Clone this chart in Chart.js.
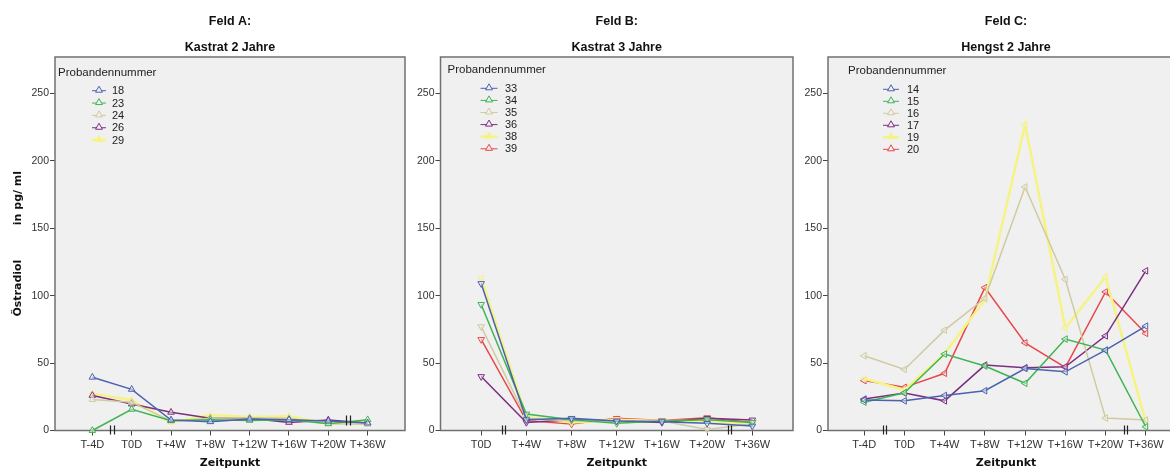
<!DOCTYPE html>
<html>
<head>
<meta charset="utf-8">
<script src="https://cdn.jsdelivr.net/npm/chart.js@4.4.1/dist/chart.umd.min.js"></script>
<style>
  html, body { margin: 0; padding: 0; background: #fff; width: 1170px; height: 470px; overflow: hidden; }
  canvas { position: absolute; top: 0; }
</style>
</head>
<body>
<canvas id="feldA" width="410" height="470" style="left:0px"></canvas>
<canvas id="feldB" width="388" height="470" style="left:410px"></canvas>
<canvas id="feldC" width="420" height="470" style="left:798px"></canvas>
<script>
// Zeitpunkte (x-axis categories)
const zeitpunkteAC = ['T-4D', 'T0D', 'T+4W', 'T+8W', 'T+12W', 'T+16W', 'T+20W', 'T+36W'];
const zeitpunkteB = ['T0D', 'T+4W', 'T+8W', 'T+12W', 'T+16W', 'T+20W', 'T+36W'];
const yTickValues = [0, 50, 100, 150, 200, 250];

// Feld A: Kastrat 2 Jahre (Östradiol in pg/ml)
const idsA = ['18', '23', '24', '26', '29'];
const a18 = [39.5, 30.5, 7.8, 6.5, 8.5, 8.0, 7.0, 5.5];
const a23 = [0.0, 15.7, 7.3, 8.0, 7.5, 8.0, 5.0, 8.0];
const a24 = [23.0, 21.0, 7.0, 9.0, 9.5, 9.0, 5.0, 4.6];
const a26 = [26.0, 19.6, 13.5, 9.0, 9.0, 6.0, 7.8, 5.5];
const a29 = [27.5, 22.5, 6.0, 11.5, 10.0, 10.5, 5.0, 6.0];

// Feld B: Kastrat 3 Jahre
const idsB = ['33', '34', '35', '36', '38', '39'];
const b33 = [109.0, 8.0, 9.0, 7.0, 6.5, 5.3, 3.3];
const b34 = [93.5, 12.2, 8.0, 5.3, 7.0, 8.0, 6.0];
const b35 = [77.0, 9.0, 7.0, 7.0, 7.0, 0.8, 5.0];
const b36 = [40.0, 6.0, 8.0, 7.0, 6.0, 9.0, 7.8];
const b38 = [113.0, 10.0, 6.0, 8.0, 7.0, 7.0, 5.0];
const b39 = [67.5, 7.3, 4.8, 9.0, 7.5, 9.5, 6.0];

// Feld C: Hengst 2 Jahre
const idsC = ['14', '15', '16', '17', '19', '20'];
const c14 = [22.6, 22.0, 26.0, 29.5, 46.0, 43.5, 59.6, 77.4];
const c15 = [21.0, 28.0, 56.7, 47.8, 35.0, 67.8, 59.6, 2.8];
const c16 = [55.4, 45.3, 74.4, 98.0, 180.6, 112.0, 9.2, 7.8];
const c17 = [23.3, 27.8, 22.0, 48.5, 46.5, 47.3, 70.2, 118.4];
const c19 = [38.5, 30.0, 57.0, 97.0, 227.0, 76.0, 114.0, 6.5];
const c20 = [37.0, 32.0, 42.4, 106.0, 65.0, 46.8, 102.8, 72.0];

// Series styling (SPSS default palette)
const palette = {
  blue:   { color: '#4A62B0', width: 1.5 },
  green:  { color: '#3DB552', width: 1.5 },
  beige:  { color: '#CFCB9E', width: 1.5 },
  purple: { color: '#7C2E80', width: 1.5 },
  yellow: { color: '#F6F386', width: 2.6 },
  red:    { color: '#E8484C', width: 1.5 }
};

const SANS = '"Liberation Sans", Arial, sans-serif';
const WIDE = '"DejaVu Sans", Verdana, sans-serif';
const PLOT_BG = '#F0F0F0';

// plot background + frame
const framePlugin = {
  id: 'frame',
  beforeDraw(chart) {
    const { ctx, chartArea: a } = chart;
    ctx.save();
    ctx.fillStyle = PLOT_BG;
    ctx.fillRect(a.left, a.top, a.right - a.left, a.bottom - a.top);
    ctx.restore();
  },
  beforeDatasetsDraw(chart) {
    const { ctx, chartArea: a } = chart;
    ctx.save();
    ctx.strokeStyle = '#707070';
    ctx.lineWidth = 1.5;
    ctx.strokeRect(a.left, a.top, a.right - a.left, a.bottom - a.top);
    ctx.restore();
  }
};

// axis break marks "||"
const breakPlugin = {
  id: 'axisBreaks',
  afterDatasetsDraw(chart, args, opts) {
    const { ctx } = chart;
    const xs = chart.scales.x;
    const y0 = chart.chartArea.bottom;
    ctx.save();
    ctx.strokeStyle = '#222';
    ctx.lineWidth = 1.2;
    (opts.marks || []).forEach(m => {
      const x = xs.getPixelForValue(m.at);
      const top = y0 - 5 - (m.lift || 0);
      const bot = y0 + 4 - (m.lift || 0) * 0.9;
      [-1.6, 1.6].forEach(dx => {
        ctx.beginPath();
        ctx.moveTo(Math.round(x + dx) + 0.5, top);
        ctx.lineTo(Math.round(x + dx) + 0.5, bot);
        ctx.stroke();
      });
    });
    ctx.restore();
  }
};

// legend drawn inside the plot area
const probandLegend = {
  id: 'probandLegend',
  afterDraw(chart, args, o) {
    const { ctx, chartArea: a } = chart;
    ctx.save();
    ctx.fillStyle = '#222';
    ctx.font = '11.5px ' + SANS;
    ctx.textBaseline = 'middle';
    ctx.textAlign = 'left';
    ctx.fillText('Probandennummer', a.left + o.titleX, a.top + o.titleY);
    ctx.font = '11px ' + SANS;
    chart.data.datasets.forEach((ds, i) => {
      const y = a.top + o.rowY + i * o.rowGap;
      const thick = ds.borderWidth > 2;
      ctx.strokeStyle = ds.borderColor;
      ctx.lineWidth = thick ? 2.6 : 1;
      ctx.beginPath();
      ctx.moveTo(a.left + o.lineX0, y);
      ctx.lineTo(a.left + o.lineX1, y);
      ctx.stroke();
      ctx.fillStyle = thick ? ds.borderColor : PLOT_BG;
      ctx.strokeStyle = ds.borderColor;
      ctx.lineWidth = 1;
      Chart.helpers.drawPoint(ctx, {
        pointStyle: 'triangle', radius: 4, rotation: 0, borderWidth: 1
      }, a.left + (o.lineX0 + o.lineX1) / 2, y - 0.5);
      ctx.fillStyle = '#222';
      ctx.fillText(ds.label, a.left + o.textX, y + 0.5);
    });
    ctx.restore();
  }
};

function makeDatasets(ids, series, styles, rotation) {
  return ids.map((id, i) => {
    const st = palette[styles[i]];
    return {
      label: id,
      data: series[i].map((v, k) => ({ x: k, y: v })),
      borderColor: st.color,
      borderWidth: st.width,
      pointStyle: 'triangle',
      pointRadius: 3.8,
      pointRotation: rotation,
      pointBorderColor: st.color,
      pointBackgroundColor: 'rgba(240,240,240,0.5)',
      pointBorderWidth: 1,
      tension: 0,
      clip: 6
    };
  });
}

function makeChart(id, cfg) {
  const labels = cfg.labels;
  return new Chart(document.getElementById(id), {
    type: 'line',
    data: { datasets: makeDatasets(cfg.ids, cfg.series, cfg.styles, cfg.rotation) },
    plugins: [framePlugin, breakPlugin, probandLegend],
    options: {
      responsive: false,
      animation: false,
      devicePixelRatio: 1,
      layout: { padding: { left: 0, right: cfg.padRight, top: 0, bottom: 0 } },
      plugins: {
        legend: { display: false },
        tooltip: { enabled: false },
        title: {
          display: true,
          fullSize: false,
          text: cfg.title,
          color: '#111',
          font: { family: SANS, size: 12.5, weight: 'bold', lineHeight: '26.5px' },
          padding: { top: 8, bottom: -4 }
        },
        axisBreaks: { marks: cfg.breaks },
        probandLegend: cfg.legend
      },
      scales: {
        x: {
          type: 'linear',
          min: cfg.xMin,
          max: cfg.xMax,
          afterBuildTicks: s => { s.ticks = labels.map((_, k) => ({ value: k })); },
          afterFit: s => { s.height = 39.5; },
          border: { display: false },
          grid: { drawOnChartArea: false, tickLength: 5, color: '#444', lineWidth: 1 },
          ticks: {
            autoSkip: false, maxRotation: 0, padding: 3, color: '#333',
            font: { family: SANS, size: 11 },
            callback: v => labels[v]
          },
          title: {
            display: true, text: 'Zeitpunkt', color: '#111',
            font: { family: WIDE, size: 11, weight: 'bold' },
            padding: { top: 0, bottom: 0 }
          }
        },
        y: {
          min: 0,
          max: 277,
          afterBuildTicks: s => { s.ticks = yTickValues.map(v => ({ value: v })); },
          afterFit: s => { s.width = cfg.yWidth; },
          border: { display: false },
          grid: { drawOnChartArea: false, tickLength: 5, color: '#444', lineWidth: 1 },
          ticks: { padding: 1, color: '#333', font: { family: SANS, size: 10.5 } },
          title: {
            display: cfg.yTitle,
            text: 'Östradiol         in pg/ ml',
            color: '#111',
            font: { family: WIDE, size: 11, weight: 'bold' },
            padding: { top: 12, bottom: 0 }
          }
        }
      }
    }
  });
}

makeChart('feldA', {
  title: ['Feld A:', 'Kastrat 2 Jahre'],
  labels: zeitpunkteAC,
  ids: idsA,
  series: [a18, a23, a24, a26, a29],
  styles: ['blue', 'green', 'beige', 'purple', 'yellow'],
  rotation: 0,
  xMin: -0.95, xMax: 7.95,
  yWidth: 55, yTitle: true, padRight: 3,
  breaks: [{ at: 0.5 }, { at: 6.5, lift: 10 }],
  legend: { titleX: 3, titleY: 15.5, lineX0: 37, lineX1: 51, textX: 57, rowY: 33.7, rowGap: 12.35 }
});

makeChart('feldB', {
  title: ['Feld B:', 'Kastrat 3 Jahre'],
  labels: zeitpunkteB,
  ids: idsB,
  series: [b33, b34, b35, b36, b38, b39],
  styles: ['blue', 'green', 'beige', 'purple', 'yellow', 'red'],
  rotation: 180,
  xMin: -0.9, xMax: 6.9,
  yWidth: 30.5, yTitle: false, padRight: 5,
  breaks: [{ at: 0.5 }, { at: 5.5 }],
  legend: { titleX: 7, titleY: 13, lineX0: 40, lineX1: 57, textX: 64.5, rowY: 31.3, rowGap: 12.1 }
});

makeChart('feldC', {
  title: ['Feld C:', 'Hengst 2 Jahre'],
  labels: zeitpunkteAC,
  ids: idsC,
  series: [c14, c15, c16, c17, c19, c20],
  styles: ['blue', 'green', 'beige', 'purple', 'yellow', 'red'],
  rotation: 270,
  xMin: -0.9, xMax: 7.95,
  yWidth: 30, yTitle: false, padRight: 34,
  breaks: [{ at: 0.5 }, { at: 6.5 }],
  legend: { titleX: 20, titleY: 13.7, lineX0: 55, lineX1: 71, textX: 79, rowY: 32.3, rowGap: 12 }
});
</script>
</body>
</html>
